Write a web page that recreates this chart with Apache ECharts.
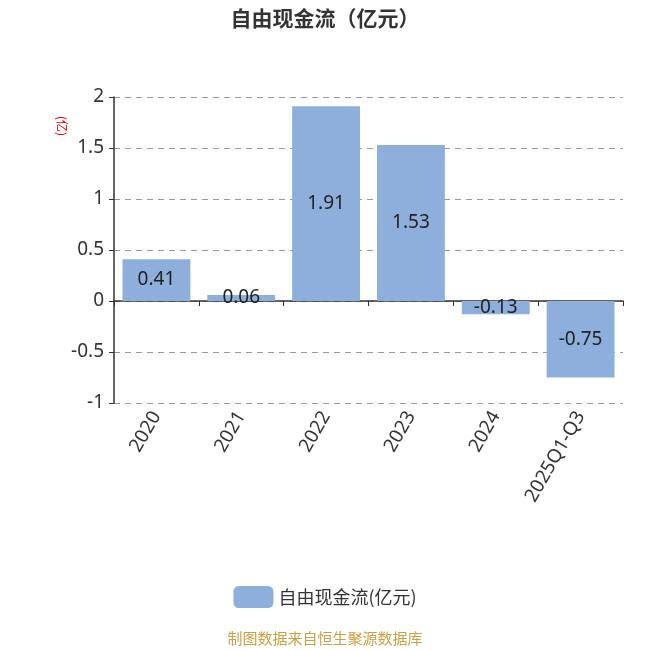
<!DOCTYPE html>
<html><head><meta charset="utf-8">
<script src="https://cdn.jsdelivr.net/npm/echarts@6/dist/echarts.min.js"></script>
<style>html,body{margin:0;padding:0;background:#fff}#c{width:650px;height:650px}</style>
</head><body><div id="c"></div>
<script>
const categories = ['2020','2021','2022','2023','2024','2025Q1-Q3'];
const values = [0.41, 0.06, 1.91, 1.53, -0.13, -0.75];
const seriesName = '自由现金流(亿元)';
const yTicks = {min: -1, max: 2, interval: 0.5};
const FONT = "'Noto Sans','Noto Sans CJK SC',sans-serif";
const CJK = "'Noto Sans CJK SC',sans-serif";
const chart = echarts.init(document.getElementById('c'));
chart.setOption({
  animation: false,
  textStyle: {fontFamily: FONT},
  title: {text: '自由现金流（亿元）', left: 'center', top: 3,
    textStyle: {fontSize: 21, fontWeight: 'bold', color: '#333', fontFamily: CJK}},
  grid: {left: 114, right: 27, top: 97, bottom: 247},
  legend: {bottom: 37, left: 'center', itemWidth: 40, itemHeight: 22, icon: 'roundRect', itemGap: 10,
    textStyle: {fontSize: 18, color: '#333', fontFamily: CJK},
    data: [seriesName]},
  graphic: [
    {type: 'text', left: 'center', top: 631,
      style: {text: '制图数据来自恒生聚源数据库', fill: '#c9a043', fontSize: 15, fontFamily: CJK}},
    {type: 'text', x: 62, y: 126, rotation: -Math.PI / 2,
      style: {text: '(亿)', fill: '#e00', fontSize: 12, fontFamily: CJK, align: 'center', verticalAlign: 'middle'}}
  ],
  xAxis: [{
    type: 'category', data: categories,
    axisLine: {onZero: true, lineStyle: {color: '#333', width: 1.5}},
    axisTick: {show: true, lineStyle: {color: '#333'}, length: 5},
    axisLabel: {show: false}
  }, {
    type: 'category', data: categories, position: 'bottom',
    axisLine: {show: false, onZero: false}, axisTick: {show: false},
    axisLabel: {rotate: 60, fontSize: 19, color: '#333', margin: 10, interval: 0}
  }],
  yAxis: {
    type: 'value', min: yTicks.min, max: yTicks.max, interval: yTicks.interval,
    axisLine: {show: true, lineStyle: {color: '#333', width: 1.5}},
    axisTick: {show: true, lineStyle: {color: '#333'}, length: 5},
    axisLabel: {fontSize: 19, color: '#333', margin: 10},
    splitLine: {lineStyle: {type: [6, 5], color: '#999', width: 1.2}}
  },
  series: [{
    name: seriesName, type: 'bar', data: values, barWidth: '80%', xAxisIndex: 0,
    itemStyle: {color: '#8eaedb'},
    label: {show: true, position: 'inside', fontSize: 19, color: '#222'}
  }]
});
</script></body></html>
